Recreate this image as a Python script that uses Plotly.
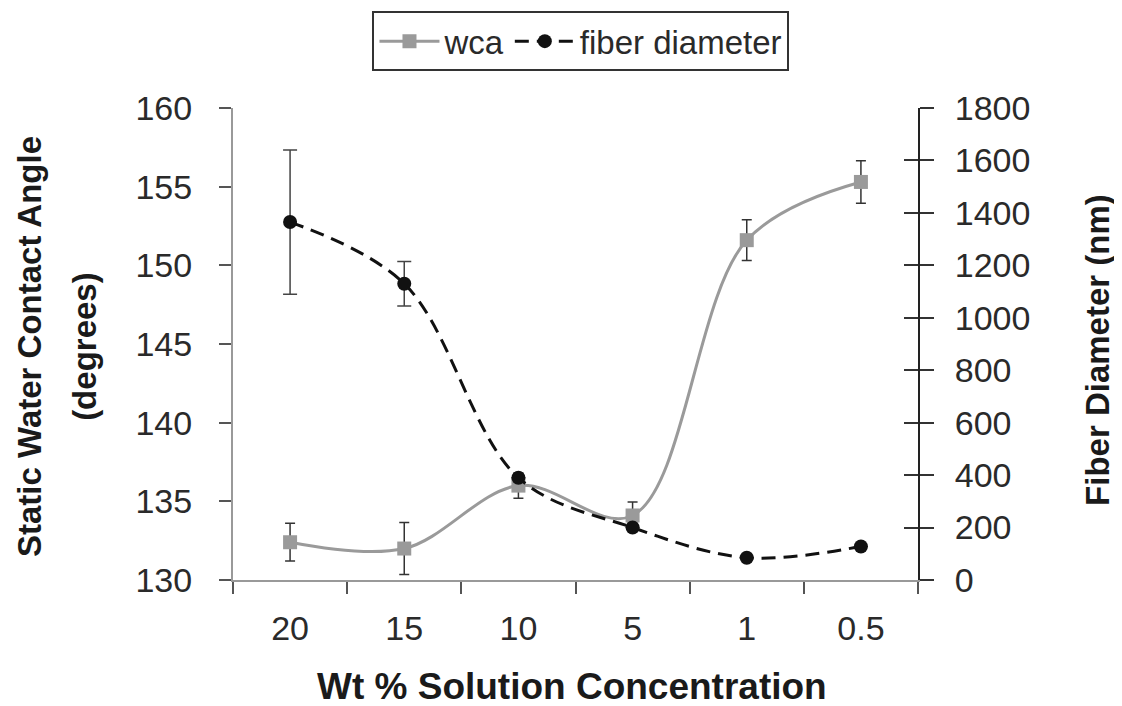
import plotly.graph_objects as go

categories = ["20", "15", "10", "5", "1", "0.5"]
wca = [132.4, 132.0, 136.0, 134.1, 151.6, 155.3]
wca_err = [1.2, 1.65, 0.8, 0.85, 1.3, 1.35]
fiber = [1365, 1130, 390, 200, 85, 128]
fiber_err = [275, 85, 0, 0, 0, 0]

FONT = "Liberation Sans, Arial, sans-serif"
TXT = "#2a2a2a"

fig = go.Figure()
fig.add_trace(go.Scatter(
    x=categories, y=wca, name="wca", mode="lines+markers",
    line=dict(color="#9a9a9a", width=3, shape="spline", smoothing=1.0),
    marker=dict(symbol="square", size=14, color="#9a9a9a"),
    error_y=dict(type="data", array=wca_err, visible=True, color="#333333", thickness=1.5, width=5),
    yaxis="y",
))
fig.add_trace(go.Scatter(
    x=categories, y=fiber, name="fiber diameter", mode="lines+markers",
    line=dict(color="#111111", width=3, dash="14px,8px", shape="spline", smoothing=1.0),
    marker=dict(symbol="circle", size=14, color="#111111"),
    error_y=dict(type="data", array=fiber_err, visible=True, color="#444444", thickness=1.5, width=7),
    yaxis="y2",
))
# helper trace to activate the inside-tick overlay axis (right axis ticks cross the line)
fig.add_trace(go.Scatter(x=[categories[0]], y=[None], yaxis="y3", showlegend=False, hoverinfo="skip"))

fig.update_layout(
    width=1122, height=706,
    margin=dict(l=225, r=212, t=100, b=134, autoexpand=False),
    paper_bgcolor="white", plot_bgcolor="white",
    font=dict(family=FONT, size=34, color=TXT),
    showlegend=True,
    legend=dict(
        orientation="h", x=0.508, xanchor="center", y=1.078, yanchor="bottom",
        bordercolor="#333333", borderwidth=2, bgcolor="white",
        font=dict(family=FONT, size=33, color=TXT),
        itemwidth=60, tracegroupgap=0,
    ),
    xaxis=dict(
        type="category", categoryorder="array", categoryarray=categories,
        range=[-0.5, 5.5], automargin=False,
        showline=True, linecolor="#999999", linewidth=2,
        ticks="outside", ticklen=12, tickcolor="#555555", tickwidth=1.5,
        tickson="boundaries", showgrid=False, zeroline=False,
        tickfont=dict(size=34, family=FONT, color=TXT), ticklabelstandoff=17,
    ),
    yaxis=dict(
        range=[130, 160], dtick=5, automargin=False,
        showline=True, linecolor="#999999", linewidth=2,
        ticks="outside", ticklen=12, tickcolor="#555555", tickwidth=1.5,
        showgrid=False, zeroline=False,
        tickfont=dict(size=34, family=FONT, color=TXT), ticklabelstandoff=20,
    ),
    yaxis2=dict(
        range=[0, 1800], dtick=200, overlaying="y", side="right", anchor="x", automargin=False,
        showline=True, linecolor="#222222", linewidth=2,
        ticks="outside", ticklen=14, tickcolor="#333333", tickwidth=1.5,
        showgrid=False, zeroline=False,
        tickfont=dict(size=34, family=FONT, color=TXT), ticklabelstandoff=14,
    ),
    yaxis3=dict(
        range=[0, 1800], dtick=200, overlaying="y", side="right", anchor="x", automargin=False,
        showline=False, ticks="inside", ticklen=14, tickcolor="#333333", tickwidth=1.5,
        showticklabels=False, showgrid=False, zeroline=False,
    ),
)

TITLE_FONT = dict(family=FONT, size=33, color="#1a1a1a")
common = dict(xref="paper", yref="paper", showarrow=False, xanchor="center", yanchor="middle")
fig.add_annotation(text="<b>Wt % Solution Concentration</b>", x=0.495, y=-0.226,
                   font=dict(family=FONT, size=37, color="#1a1a1a"), **common)
fig.add_annotation(text="<b>Static Water Contact Angle</b>", x=-0.296, y=0.494, textangle=-90,
                   font=TITLE_FONT, **common)
fig.add_annotation(text="<b>(degrees)</b>", x=-0.216, y=0.494, textangle=-90,
                   font=TITLE_FONT, **common)
fig.add_annotation(text="<b>Fiber Diameter (nm)</b>", x=1.261, y=0.487, textangle=-90,
                   font=TITLE_FONT, **common)

fig.write_html("out.html")
